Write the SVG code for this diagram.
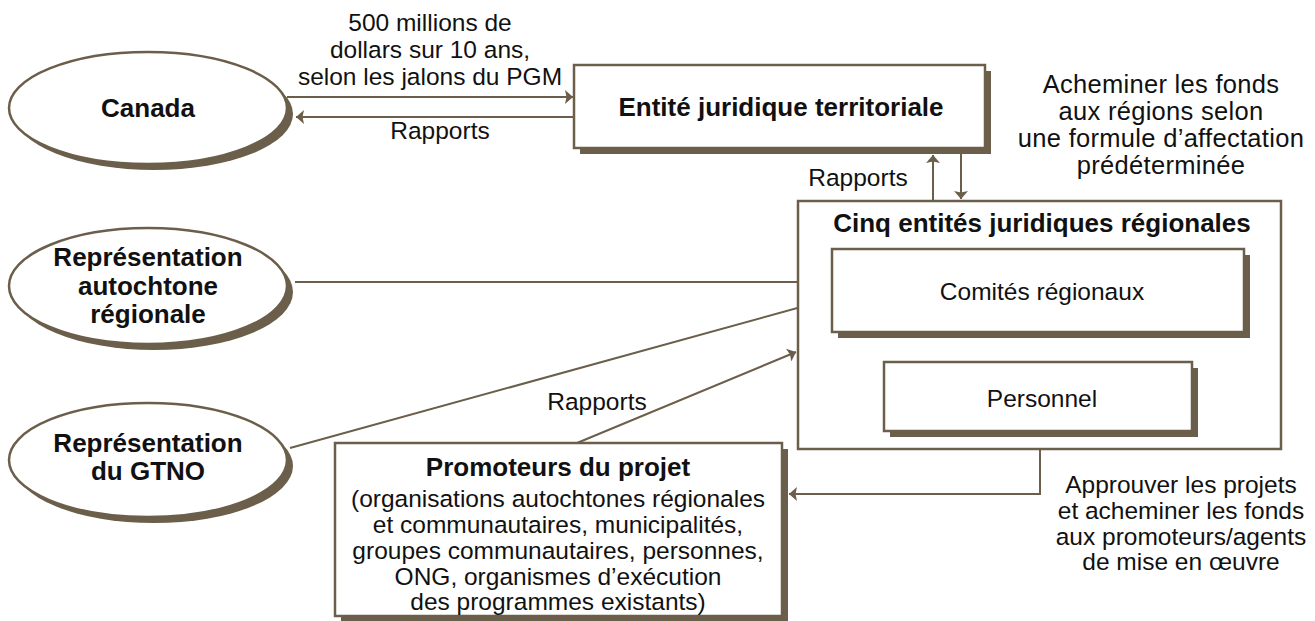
<svg xmlns="http://www.w3.org/2000/svg" width="1315" height="621" viewBox="0 0 1315 621">
<defs>
<style>
.sh{fill:#6b5e4a;stroke:none}
.bx{fill:#fff;stroke:#6b5e4a;stroke-width:2.5}
.cn{fill:none;stroke:#6b5e4a;stroke-width:2}
.t{font-family:"Liberation Sans",Arial,sans-serif;font-size:24.5px;fill:#111;text-anchor:middle}
.tl{font-family:"Liberation Sans",Arial,sans-serif;font-size:25.5px;letter-spacing:0.3px;fill:#111;text-anchor:middle}
.b{font-family:"Liberation Sans",Arial,sans-serif;font-size:26px;font-weight:bold;fill:#111;text-anchor:middle}
</style>
<marker id="ah" viewBox="0 0 8 14" refX="8" refY="7" markerWidth="8" markerHeight="14" markerUnits="userSpaceOnUse" orient="auto">
<path d="M0,0 L8,7 L0,14 L1.5,7 z" fill="#6b5e4a"/>
</marker>
</defs>
<rect width="1315" height="621" fill="#fff"/>

<g id="connectors">
<path class="cn" d="M287,97 H573" marker-end="url(#ah)"/>
<path class="cn" d="M574,117 H296" marker-end="url(#ah)"/>
<path class="cn" d="M933,200 V155" marker-end="url(#ah)"/>
<path class="cn" d="M961,154 V199" marker-end="url(#ah)"/>
<path class="cn" d="M295,282 H830" marker-end="url(#ah)"/>
<path class="cn" d="M290,448 L830,299" marker-end="url(#ah)"/>
<path class="cn" d="M577,443 L796,352" marker-end="url(#ah)"/>
<path class="cn" d="M1028,362 V340" marker-end="url(#ah)"/>
<path class="cn" d="M1057,338 V361" marker-end="url(#ah)"/>
<path class="cn" d="M1040,449 V494 H789" marker-end="url(#ah)"/>
</g>

<g id="labels">
<text class="t" x="430" y="31">500 millions de</text>
<text class="t" x="430" y="58">dollars sur 10 ans,</text>
<text class="t" x="430" y="85">selon les jalons du PGM</text>
<text class="t" x="440" y="139">Rapports</text>
<text class="t" x="858" y="186">Rapports</text>
<text class="t" x="597" y="410">Rapports</text>
<text class="tl" x="1161" y="93">Acheminer les fonds</text>
<text class="tl" x="1161" y="120">aux régions selon</text>
<text class="tl" x="1161" y="147">une formule d’affectation</text>
<text class="tl" x="1161" y="174">prédéterminée</text>
<text class="t" x="1181" y="493">Approuver les projets</text>
<text class="t" x="1181" y="519">et acheminer les fonds</text>
<text class="t" x="1181" y="545">aux promoteurs/agents</text>
<text class="t" x="1181" y="570">de mise en œuvre</text>
</g>

<g id="canada">
<ellipse class="sh" cx="154" cy="114" rx="139" ry="56"/>
<ellipse class="bx" cx="148" cy="108" rx="139" ry="56"/>
<text class="b" x="148" y="117">Canada</text>
</g>

<g id="rep-autochtone">
<ellipse class="sh" cx="154" cy="292" rx="139" ry="58"/>
<ellipse class="bx" cx="148" cy="286" rx="139" ry="58"/>
<text class="b" x="148" y="266">Représentation</text>
<text class="b" x="148" y="295">autochtone</text>
<text class="b" x="148" y="323">régionale</text>
</g>

<g id="rep-gtno">
<ellipse class="sh" cx="154" cy="466" rx="139" ry="57"/>
<ellipse class="bx" cx="148" cy="460" rx="139" ry="57"/>
<text class="b" x="148" y="452">Représentation</text>
<text class="b" x="148" y="480">du GTNO</text>
</g>

<g id="entite-territoriale">
<rect class="sh" x="580" y="71" width="411" height="83"/>
<rect class="bx" x="574" y="65" width="411" height="83"/>
<text class="b" x="781" y="116">Entité juridique territoriale</text>
</g>

<g id="cinq-entites">
<rect class="bx" x="798" y="201" width="483" height="248"/>
<text class="b" x="1042" y="232">Cinq entités juridiques régionales</text>
</g>

<g id="comites">
<rect class="sh" x="838" y="255" width="412" height="83"/>
<rect class="bx" x="832" y="249" width="412" height="83"/>
<text class="t" x="1042" y="300">Comités régionaux</text>
</g>

<g id="personnel">
<rect class="sh" x="890" y="368" width="308" height="69"/>
<rect class="bx" x="884" y="362" width="308" height="69"/>
<text class="t" x="1042" y="407">Personnel</text>
</g>

<g id="promoteurs">
<rect class="sh" x="341" y="449" width="447" height="173"/>
<rect class="bx" x="335" y="443" width="447" height="173"/>
<text class="b" x="558" y="476">Promoteurs du projet</text>
<text class="t" x="558" y="507">(organisations autochtones régionales</text>
<text class="t" x="558" y="533">et communautaires, municipalités,</text>
<text class="t" x="558" y="559">groupes communautaires, personnes,</text>
<text class="t" x="558" y="585">ONG, organismes d’exécution</text>
<text class="t" x="558" y="610">des programmes existants)</text>
</g>
</svg>
